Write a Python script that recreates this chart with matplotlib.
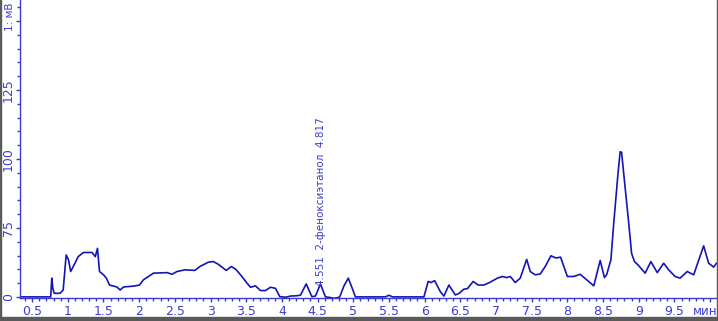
import matplotlib
matplotlib.use('Agg')
import matplotlib.pyplot as plt
import matplotlib.transforms as mtransforms
from matplotlib.patches import Rectangle
from matplotlib.ticker import MultipleLocator

# retention time (min) and detector signal
time_min = [0.33, 0.76, 0.776, 0.79, 0.81, 0.89, 0.935, 0.977, 1.01, 1.04,
            1.10, 1.145, 1.22, 1.34, 1.385, 1.416, 1.444, 1.50, 1.54, 1.584,
            1.687, 1.734, 1.78, 1.92, 2.005, 2.06, 2.13, 2.20, 2.39, 2.46,
            2.53, 2.64, 2.78, 2.85, 2.97, 3.04, 3.11, 3.18, 3.22, 3.29,
            3.35, 3.44, 3.51, 3.56, 3.63, 3.70, 3.77, 3.84, 3.91, 3.97,
            4.00, 4.06, 4.12, 4.20, 4.26, 4.34, 4.42, 4.47, 4.54, 4.61,
            4.67, 4.73, 4.78, 4.81, 4.87, 4.93, 4.98, 5.03, 5.45, 5.50,
            5.55, 5.99, 6.05, 6.09, 6.14, 6.22, 6.27, 6.34, 6.43, 6.48,
            6.55, 6.60, 6.68, 6.75, 6.83, 6.91, 7.02, 7.09, 7.15, 7.20,
            7.27, 7.34, 7.43, 7.48, 7.55, 7.62, 7.69, 7.77, 7.84, 7.905,
            8.00, 8.09, 8.18, 8.27, 8.37, 8.46, 8.52, 8.55, 8.61, 8.65,
            8.71, 8.74, 8.76, 8.79, 8.86, 8.90, 8.94, 8.99, 9.09, 9.17,
            9.26, 9.35, 9.42, 9.51, 9.58, 9.68, 9.77, 9.91, 9.98, 10.05,
            10.09]
signal = [50.0, 50.0, 56.8, 53.0, 51.3, 51.3, 52.5, 65.2, 63.4, 59.2,
          62.2, 64.6, 66.1, 66.1, 64.6, 67.6, 59.2, 58.0, 56.8, 54.3,
          53.6, 52.5, 53.6, 53.9, 54.3, 56.2, 57.4, 58.6, 58.8, 58.2,
          59.2, 59.8, 59.6, 61.0, 62.6, 62.8, 61.8, 60.4, 59.6, 61.0,
          60.1, 57.4, 55.0, 53.5, 54.0, 52.3, 52.3, 53.5, 53.1, 50.1,
          50.0, 49.9, 50.3, 50.4, 50.6, 54.7, 50.1, 50.3, 54.7, 50.0,
          49.8, 49.5, 49.7, 50.0, 54.0, 56.8, 53.5, 50.0, 50.0, 50.6,
          50.0, 50.0, 55.6, 55.2, 55.9, 51.9, 50.3, 54.3, 50.7, 51.2,
          52.8, 53.0, 55.6, 54.3, 54.3, 55.2, 56.8, 57.4, 57.0, 57.4,
          55.2, 56.8, 63.6, 59.2, 58.0, 58.3, 61.0, 64.9, 64.1, 64.4,
          57.4, 57.4, 58.2, 56.2, 54.0, 63.2, 57.0, 58.0, 63.4, 76.7,
          94.8, 102.6, 102.4, 94.8, 76.7, 65.8, 62.8, 61.6, 58.6, 62.8,
          58.8, 62.2, 59.8, 57.4, 56.8, 59.2, 58.0, 68.5, 62.2, 60.8,
          62.2]

x_ticks = [0.5, 1, 1.5, 2, 2.5, 3, 3.5, 4, 4.5, 5, 5.5, 6, 6.5, 7, 7.5,
           8, 8.5, 9, 9.5, 10]
x_labels = ['0.5', '1', '1.5', '2', '2.5', '3', '3.5', '4', '4.5', '5',
            '5.5', '6', '6.5', '7', '7.5', '8', '8.5', '9', '9.5', 'мин']
y_ticks = [50, 75, 100, 125, 150]
y_labels = ['0', '75', '100', '125', '1: мВ']

peak_time = 4.551
peak_label = '4.551  2-феноксиэтанол  4.817'

line_col = '#1414b4'
axis_col = '#3c3cd2'

plt.rcParams['font.family'] = ['DejaVu Sans']

fig = plt.figure(figsize=(7.18, 3.21), dpi=100)
ax = fig.add_axes([20 / 718, 23 / 321, 696.5 / 718, 298 / 321])

ax.plot(time_min, signal, color=line_col, linewidth=1.2)

ax.set_xlim(0.33, 10.09)
ax.set_ylim(49.6, 157.6)

ax.set_xticks(x_ticks)
ax.set_xticklabels(x_labels)
ax.xaxis.set_minor_locator(MultipleLocator(0.1))
ax.set_yticks(y_ticks)
ax.set_yticklabels(y_labels, rotation=90, va='center')
ax.yaxis.set_minor_locator(MultipleLocator(5))

ax.tick_params(which='both', direction='out', colors=axis_col, labelsize=9,
               width=1.0)
ax.tick_params(which='major', length=3.0, pad=2)
ax.tick_params(axis='y', which='major', pad=0.5)
ax.tick_params(which='minor', length=2.0)

# last x label sits a little left so it stays inside the frame
last = ax.get_xticklabels()[-1]
last.set_transform(last.get_transform() +
                   mtransforms.ScaledTranslation(-5 / 100, 0, fig.dpi_scale_trans))
last.set_fontsize(8.5)

# unit label on top of the y axis, slightly smaller and nudged up
top = ax.get_yticklabels()[-1]
top.set_fontsize(7.5)
top.set_transform(top.get_transform() +
                  mtransforms.ScaledTranslation(0, 4 / 100, fig.dpi_scale_trans))

for side in ['top', 'right']:
    ax.spines[side].set_visible(False)
for side in ['left', 'bottom']:
    ax.spines[side].set_color(axis_col)
    ax.spines[side].set_linewidth(1.0)

ax.text(peak_time, 53.8, peak_label, rotation=90, ha='center', va='bottom',
        color=axis_col, fontsize=7.5)

# grey frame of the screenshot
fig.patches.append(Rectangle((0, 0), 1, 4.5 / 321, transform=fig.transFigure,
                             color='#5a5a5a', zorder=10))
fig.patches.append(Rectangle((716.5 / 718, 0), 1.5 / 718, 1,
                             transform=fig.transFigure, color='#5a5a5a',
                             zorder=10))
fig.patches.append(Rectangle((0, 0), 1 / 718, 1, transform=fig.transFigure,
                             color='#5a5a5a', zorder=10))

fig.savefig('out.png', dpi=100)
